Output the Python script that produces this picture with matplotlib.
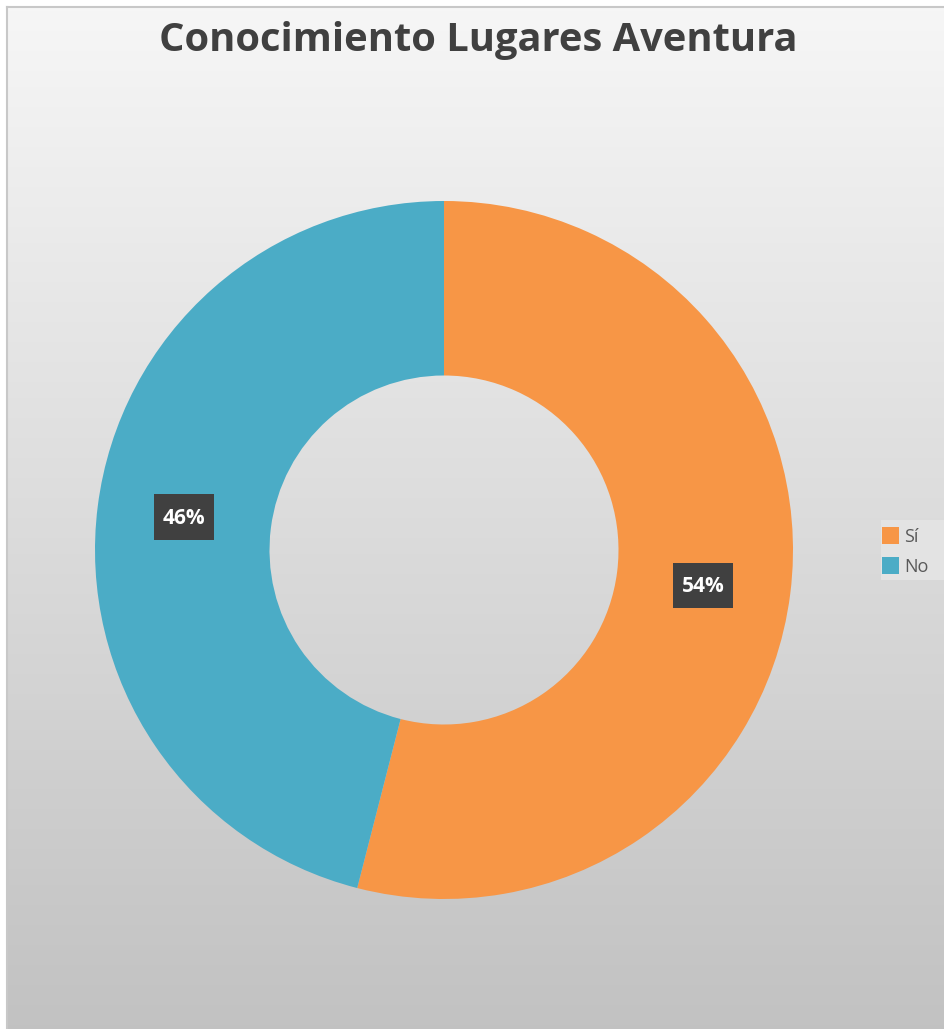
import numpy as np
import matplotlib
matplotlib.use("Agg")
import matplotlib.pyplot as plt
from matplotlib.patches import Rectangle
from matplotlib.lines import Line2D

# Data
categories = ["Sí", "No"]
values = [54, 46]
colors = ["#F79646", "#4BACC6"]
title = "Conocimiento Lugares Aventura"

W, H = 944, 1029
fig = plt.figure(figsize=(W / 100, H / 100), dpi=100)
fig.patch.set_facecolor("white")

# Background gradient panel
bg = fig.add_axes([7 / W, 0, (W - 7) / W, (H - 7) / H])
grad = np.linspace(0.965, 0.76, 256).reshape(-1, 1)
bg.imshow(np.dstack([grad, grad, grad]), aspect="auto", extent=[0, 1, 0, 1], origin="upper")
bg.set_xlim(0, 1)
bg.set_ylim(0, 1)
bg.axis("off")
fig.lines.append(Line2D([7 / W, 7 / W], [0, 1 - 7 / H], transform=fig.transFigure,
                        color="#c8c8c8", lw=1.5))
fig.lines.append(Line2D([7 / W, 1], [1 - 7 / H, 1 - 7 / H], transform=fig.transFigure,
                        color="#c8c8c8", lw=1.5))

# Donut
cx, cy, r = 444, 550, 349
ax = fig.add_axes([(cx - r) / W, (H - cy - r) / H, 2 * r / W, 2 * r / H])
ax.set_facecolor("none")
wedges, _ = ax.pie(values, colors=colors, startangle=90, counterclock=False,
                   radius=1.0, wedgeprops=dict(width=0.5, edgecolor="none"))
ax.set_xlim(-1, 1)
ax.set_ylim(-1, 1)
ax.set_aspect("equal")
ax.axis("off")

# Data labels
label_pos = {0: (703, 585), 1: (184, 517)}
bw, bh = 60, 45
for i, v in enumerate(values):
    px, py = label_pos[i]
    fig.patches.append(Rectangle(((px - bw / 2) / W, 1 - (py + bh / 2) / H), bw / W, bh / H,
                                 transform=fig.transFigure, facecolor="#404040",
                                 edgecolor="none"))
    fig.text(px / W, 1 - (py + 1) / H, f"{v}%", ha="center", va="center",
             fontsize=15, fontweight="bold", color="white", family="Open Sans")

# Title
fig.text(478 / W, 1 - 40 / H, title, ha="center", va="center", fontsize=28.7,
         fontweight="bold", color="#404040", family="Open Sans")

# Legend
fig.patches.append(Rectangle((881 / W, 1 - 580 / H), 63 / W, 60 / H,
                             transform=fig.transFigure, facecolor="#e6e6e6",
                             edgecolor="none", alpha=0.8))
for i, (cat, col) in enumerate(zip(categories, colors)):
    y = 536 + i * 30
    fig.patches.append(Rectangle((882 / W, 1 - (y + 8) / H), 17 / W, 17 / H,
                                 transform=fig.transFigure, facecolor=col, edgecolor="none"))
    fig.text(904 / W, 1 - (y + 1) / H, cat, ha="left", va="center", fontsize=13,
             color="#595959", family="Open Sans")

fig.savefig("out.png", dpi=100)
